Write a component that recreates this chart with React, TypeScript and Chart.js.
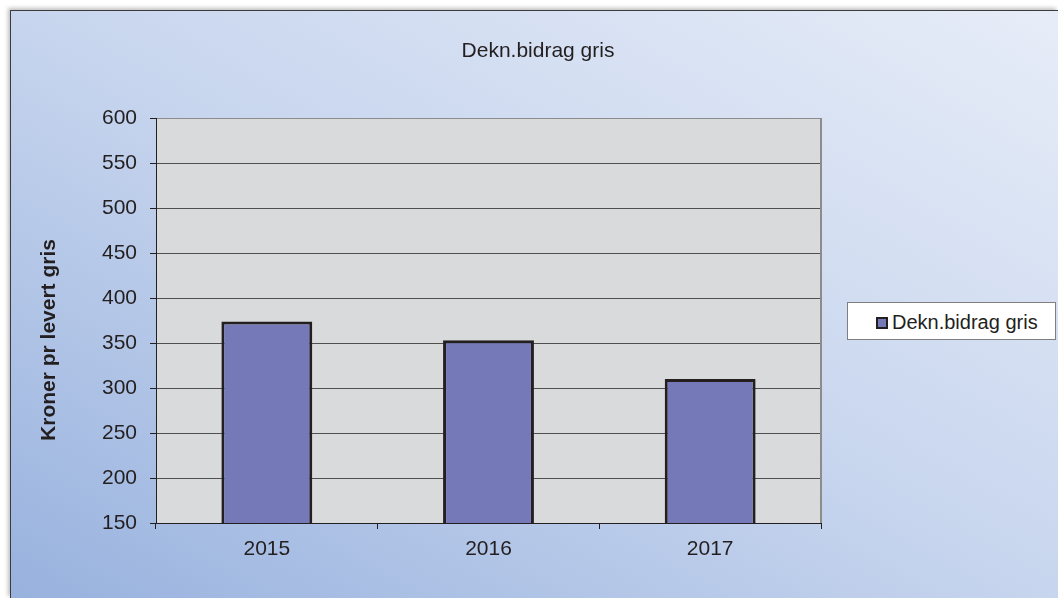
import React, { useEffect, useRef } from 'react';
import { Chart, registerables } from 'chart.js';

Chart.register(...registerables);

const categories = ['2015', '2016', '2017'];
const values = [374, 353, 310];
const seriesLabel = 'Dekn.bidrag gris';
const chartTitle = 'Dekn.bidrag gris';
const yAxisTitle = 'Kroner pr levert gris';
const yMin = 150;
const yMax = 600;
const yStep = 50;

const FONT = '"Liberation Sans", Arial, Helvetica, sans-serif';
const TEXT = '#231f20';
const BAR = '#7679b8';

export default function App() {
  const ref = useRef<HTMLCanvasElement>(null);

  useEffect(() => {
    const canvas = ref.current;
    if (!canvas) return;

    const decor = {
      id: 'decor',
      beforeDraw(chart: any) {
        const { ctx, chartArea: a } = chart;
        ctx.save();
        ctx.fillStyle = '#d9dadb';
        ctx.fillRect(a.left, a.top, a.right - a.left, a.bottom - a.top);
        ctx.restore();
      },
      afterDraw(chart: any) {
        const { ctx, chartArea: a } = chart;
        ctx.save();
        ctx.strokeStyle = '#8c8c8c';
        ctx.lineWidth = 2;
        ctx.beginPath();
        ctx.moveTo(a.right, a.top);
        ctx.lineTo(a.right, a.bottom);
        ctx.stroke();

        ctx.fillStyle = TEXT;
        ctx.font = `21px ${FONT}`;
        ctx.textAlign = 'center';
        ctx.textBaseline = 'alphabetic';
        ctx.fillText(chartTitle, 528, 46.7);

        ctx.translate(44.5, 330);
        ctx.rotate(-Math.PI / 2);
        ctx.font = `bold 21px ${FONT}`;
        ctx.fillText(yAxisTitle, 0, 0);
        ctx.restore();
      },
    };

    const chart = new Chart(canvas, {
      type: 'bar',
      data: {
        labels: categories,
        datasets: [
          {
            label: seriesLabel,
            data: values,
            backgroundColor: BAR,
            borderColor: TEXT,
            borderWidth: 3,
            borderSkipped: false,
            barPercentage: 0.41,
            categoryPercentage: 1,
          },
        ],
      },
      options: {
        responsive: false,
        animation: false,
        layout: { padding: { top: 108, right: 237, bottom: 0, left: 0 } },
        plugins: {
          legend: { display: false },
          title: { display: false },
          tooltip: { enabled: false },
        },
        scales: {
          x: {
            afterFit: (scale: any) => {
              scale.height = 75;
            },
            grid: {
              drawOnChartArea: false,
              drawTicks: true,
              tickLength: 6,
              color: TEXT,
              tickColor: TEXT,
              offset: true,
            },
            border: { color: TEXT, width: 1 },
            ticks: {
              font: { family: FONT, size: 21 },
              color: TEXT,
              padding: 8,
            },
          },
          y: {
            min: yMin,
            max: yMax,
            afterFit: (scale: any) => {
              scale.width = 146;
            },
            grid: {
              color: (c: any) => (c.tick && c.tick.value === yMax ? '#8c8c8c' : '#505050'),
              lineWidth: 1,
              tickLength: 6,
              tickColor: TEXT,
            },
            border: { color: TEXT, width: 1 },
            ticks: {
              stepSize: yStep,
              font: { family: FONT, size: 21 },
              color: TEXT,
              padding: 13,
            },
          },
        },
      },
      plugins: [decor],
    } as any);

    return () => chart.destroy();
  }, []);

  return (
    <div
      style={{
        position: 'fixed',
        left: 0,
        top: 0,
        width: 1058,
        height: 598,
        overflow: 'hidden',
        background: '#ffffff',
      }}
    >
      <div
        style={{
          position: 'absolute',
          left: 10,
          top: 10,
          width: 1048,
          height: 588,
          background: 'linear-gradient(to top right, #98b2de 0%, #c7d5ee 50%, #e7edf8 100%)',
          boxShadow: '-2px -2px 4px rgba(0,0,0,0.25)',
        }}
      >
        <canvas
          ref={ref}
          width={1048}
          height={588}
          style={{ position: 'absolute', left: 0, top: 0, display: 'block' }}
        />
        <div
          style={{
            position: 'absolute',
            left: 0,
            top: 0,
            right: 0,
            bottom: 0,
            borderLeft: '1px solid #3c3c3c',
            borderTop: '1px solid #3c3c3c',
            pointerEvents: 'none',
          }}
        />
        <div
          style={{
            position: 'absolute',
            left: 837,
            top: 292,
            width: 209,
            height: 38,
            boxSizing: 'border-box',
            border: '1px solid #7f7f7f',
            background: '#ffffff',
          }}
        >
          <div
            style={{
              position: 'absolute',
              left: 28,
              top: 14,
              width: 12,
              height: 12,
              boxSizing: 'border-box',
              border: `2px solid ${TEXT}`,
              background: BAR,
            }}
          />
          <span
            style={{
              position: 'absolute',
              left: 44,
              top: 9,
              fontFamily: FONT,
              fontSize: 20,
              lineHeight: '20px',
              color: TEXT,
              whiteSpace: 'nowrap',
            }}
          >
            {seriesLabel}
          </span>
        </div>
      </div>
    </div>
  );
}
